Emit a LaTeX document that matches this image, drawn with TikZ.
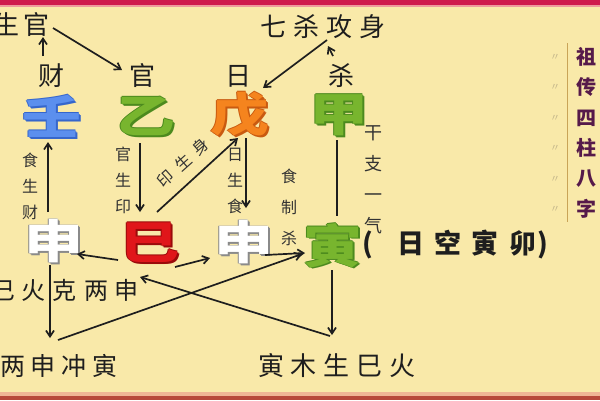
\documentclass[tikz,border=0pt]{standalone}
\usepackage{fontspec}
\usepackage{graphicx}
\setmainfont{Noto Sans CJK SC}
\usetikzlibrary{arrows.meta}
\definecolor{bg}{HTML}{F9E9A9}
\definecolor{ink}{HTML}{1E1E1E}
\definecolor{ink2}{HTML}{333333}
\definecolor{topred}{HTML}{CF1A4C}
\definecolor{toppink}{HTML}{EE9A9C}
\definecolor{botsal}{HTML}{F0B595}
\definecolor{botred}{HTML}{B8483A}
\definecolor{blueM}{HTML}{5B8FEE}
\definecolor{blueE}{HTML}{3566CC}
\definecolor{grnM}{HTML}{78B52E}
\definecolor{grnE}{HTML}{4C8A1E}
\definecolor{orgM}{HTML}{F5841E}
\definecolor{orgE}{HTML}{C95A10}
\definecolor{redM}{HTML}{E0161A}
\definecolor{redE}{HTML}{9A0A0A}
\definecolor{wE}{HTML}{8A8A8A}
\definecolor{purp}{HTML}{561A4A}
\definecolor{gold}{HTML}{C9A458}
\definecolor{markc}{HTML}{C2B58A}
\newcommand\bch[3]{\scalebox{1.28}[1]{%
 \makebox[0pt][l]{\kern1.6pt\raisebox{-1.8pt}{\textcolor{#2}{#3}}}%
 \makebox[0pt][l]{\kern-0.8pt\textcolor{#2}{#3}}%
 \makebox[0pt][l]{\kern0.8pt\raisebox{-0.8pt}{\textcolor{#2}{#3}}}%
 \makebox[0pt][l]{\raisebox{0.8pt}{\textcolor{#2}{#3}}}%
 \textcolor{#1}{#3}}}
\tikzset{
 bigc/.style={font=\bfseries\fontsize{46}{46}\selectfont, inner sep=0pt},
 lab/.style={font=\fontsize{26}{26}\selectfont, text=ink, inner sep=1pt},
 blab/.style={font=\fontsize{24}{24}\selectfont, text=ink, inner sep=1pt},
 sm/.style={font=\fontsize{16}{26}\selectfont, text=ink2, align=center, inner sep=1pt},
 arr/.style={draw=ink, line width=1.7pt, -{Straight Barb[length=6pt,width=8pt]}},
 ln/.style={draw=ink, line width=1.7pt},
}
\begin{document}
\begin{tikzpicture}[x=1pt,y=-1pt]
\useasboundingbox (0,0) rectangle (600,400);
\fill[bg] (0,0) rectangle (600,400);
\fill[toppink] (0,4) rectangle (600,7);
\fill[topred] (0,0) rectangle (600,4.5);
\fill[botsal] (0,392) rectangle (600,396);
\fill[botred] (0,396) rectangle (600,400);

% big characters
\node[bigc] (ren) at (52,117) {\bch{blueM}{blueE}{壬}};
\node[bigc] (yi) at (146,117) {\bch{grnM}{grnE}{乙}};
\node[bigc] (wu) at (240,115) {\bch{orgM}{orgE}{戊}};
\node[bigc] (jia) at (339,116) {\bch{grnM}{grnE}{甲}};
\node[bigc] (shenA) at (54,242) {\bch{white}{wE}{申}};
\node[bigc] (si) at (150,243) {\bch{redM}{redE}{巳}};
\node[bigc] (shenB) at (244,243) {\bch{white}{wE}{申}};
\node[bigc] (yin) at (333,246) {\bch{grnM}{grnE}{寅}};

% labels
\node[lab] (shengguan) at (22,25) {生\kern4pt 官};
\node[lab] (cai) at (51,76) {财};
\node[lab] (guan) at (142,76) {官};
\node[lab] (ri) at (238,76) {日};
\node[lab] (sha) at (341,76) {杀};
\node[lab] (qsgs) at (323,27) {七\kern7pt 杀\kern7pt 攻\kern7pt 身};
\node[blab] (hkls) at (65,290) {巳\kern7pt 火\kern7pt 克\kern7pt 两\kern7pt 申};
\node[lab,font=\fontsize{25}{25}\selectfont] (lsct) at (59,366) {两\kern6pt 申\kern6pt 冲\kern6pt 寅};
\node[lab] (ymss) at (337,366) {寅\kern7pt 木\kern7pt 生\kern7pt 巳\kern7pt 火};

\node[sm] (sscai) at (30,186) {食\\生\\财};
\node[sm] (gsy) at (123,180) {官\\生\\印};
\node[sm] (rss) at (235,181) {日\\生\\食};
\node[sm,font=\fontsize{16}{31}\selectfont] (szs) at (289,207) {食\\制\\杀};
\node[sm,font=\fontsize{18}{31}\selectfont] (gzyq) at (373,180) {干\\支\\一\\气};
\node[sm,rotate=41.6] (ysy) at (183,163) {印\kern8pt 生\kern8pt 身};

\node[anchor=west,font=\bfseries\fontsize{27}{27}\selectfont,text=ink,inner sep=0pt] (rkym) at (362,245) {(\kern25pt 日\kern10pt 空\kern10pt 寅\kern10pt 卯\kern2pt)};

% right panel
\draw[gold,line width=1pt] (567,43) -- (567,222);
\foreach \i/\c/\y in {1/祖/57,2/传/87,3/四/118,4/柱/148,5/八/179,6/字/209}{%
 \node[font=\bfseries\fontsize{20}{20}\selectfont,text=purp,inner sep=0pt] (t\i) at (586,\y) {\c};
 \node[font=\fontsize{10}{10}\selectfont,text=markc,inner sep=0pt] (m\i) at (555,\y) {〃};}

% connectors
\coordinate (p1) at (43,56);   \coordinate (p2) at (43,37);
\coordinate (p3) at (53,28);   \coordinate (p4) at (122,70);
\coordinate (p5) at (327,40);  \coordinate (p6) at (263,88);
\coordinate (p7) at (333,56);  \coordinate (p8) at (328,46);
\coordinate (p9) at (48,212);  \coordinate (p10) at (48,142);
\coordinate (p11) at (140,143);\coordinate (p12) at (140,212);
\coordinate (p13) at (157,212);\coordinate (p14) at (238,138);
\coordinate (p15) at (246,138);\coordinate (p16) at (246,208);
\coordinate (p17) at (265,255);\coordinate (p18) at (305,253);
\coordinate (p19) at (337,140);\coordinate (p20) at (337,216);
\coordinate (p21) at (118,260);\coordinate (p22) at (77,254);
\coordinate (p23) at (175,267);\coordinate (p24) at (210,258);
\coordinate (p25) at (50,265); \coordinate (p26) at (50,338);
\coordinate (p27) at (58,340); \coordinate (p28) at (302,254);
\coordinate (p29) at (332,270);\coordinate (p30) at (332,335);
\coordinate (p31) at (330,336);\coordinate (p32) at (140,277);
\draw[arr] (p1) -- (p2);
\draw[arr] (p3) -- (p4);
\draw[arr] (p5) -- (p6);
\draw[arr] (p7) -- (p8);
\draw[arr] (p9) -- (p10);
\draw[arr] (p11) -- (p12);
\draw[arr] (p13) -- (p14);
\draw[arr] (p15) -- (p16);
\draw[arr] (p17) -- (p18);
\draw[ln] (p19) -- (p20);
\draw[arr] (p21) -- (p22);
\draw[arr] (p23) -- (p24);
\draw[arr] (p25) -- (p26);
\draw[arr] (p27) -- (p28);
\draw[arr] (p29) -- (p30);
\draw[arr] (p31) -- (p32);
\end{tikzpicture}
\end{document}
